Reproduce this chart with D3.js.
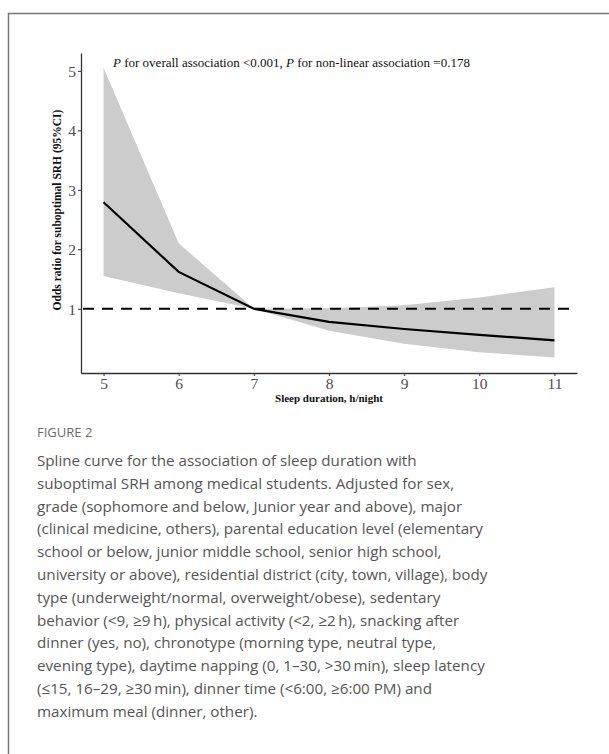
<!DOCTYPE html>
<html>
<head>
<meta charset="utf-8">
<script src="https://cdn.jsdelivr.net/npm/d3@7"></script>
<style>
  body { margin: 0; background: #fff; }
  svg { display: block; }
</style>
</head>
<body>
<svg id="chart" width="609" height="754"></svg>
<script>
// sleep duration (h/night) and odds ratio with 95% CI
var hours = [5, 6, 7, 8, 9, 10, 11];
var oddsRatio = [2.79, 1.62, 1.0, 0.78, 0.66, 0.56, 0.47];
var upperCI = [5.05, 2.1, 1.0, 1.01, 1.06, 1.19, 1.36];
var lowerCI = [1.55, 1.26, 1.0, 0.63, 0.41, 0.27, 0.18];
var xTicks = [5, 6, 7, 8, 9, 10, 11];
var yTicks = [1, 2, 3, 4, 5];

var captionLines = [
  "Spline curve for the association of sleep duration with",
  "suboptimal SRH among medical students. Adjusted for sex,",
  "grade (sophomore and below, Junior year and above), major",
  "(clinical medicine, others), parental education level (elementary",
  "school or below, junior middle school, senior high school,",
  "university or above), residential district (city, town, village), body",
  "type (underweight/normal, overweight/obese), sedentary",
  "behavior (<9, \u22659\u2009h), physical activity (<2, \u22652\u2009h), snacking after",
  "dinner (yes, no), chronotype (morning type, neutral type,",
  "evening type), daytime napping (0, 1\u201330, >30\u2009min), sleep latency",
  "(\u226415, 16\u201329, \u226530\u2009min), dinner time (<6:00, \u22656:00 PM) and",
  "maximum meal (dinner, other)."
];

var svg = d3.select("#chart");

//outer frame of the figure
svg.append("path")
    .attr("d", "M8.5,760 L8.5,13.5 L620,13.5")
    .attr("fill", "none")
    .attr("stroke", "#777")
    .attr("stroke-width", 1.5);

var x = d3.scaleLinear().domain([4.7, 11.3]).range([81, 577]);
var y = d3.scaleLinear().domain([-0.08, 5.3]).range([373, 53]);

var data = hours.map((h, i) => ({h: h, or: oddsRatio[i], lo: lowerCI[i], hi: upperCI[i]}));

//confidence band
svg.append("path")
    .datum(data)
    .attr("fill", "#cccccc")
    .attr("d", d3.area()
        .x(d => x(d.h))
        .y0(d => y(d.lo))
        .y1(d => y(d.hi)));

//reference line at OR = 1
svg.append("line")
    .attr("x1", x(4.7) + 2)
    .attr("x2", x(11.3))
    .attr("y1", y(1))
    .attr("y2", y(1))
    .attr("stroke", "black")
    .attr("stroke-width", 2.2)
    .attr("stroke-dasharray", "11,8");

//odds ratio curve
svg.append("path")
    .datum(data)
    .attr("fill", "none")
    .attr("stroke", "black")
    .attr("stroke-width", 2.2)
    .attr("d", d3.line()
        .x(d => x(d.h))
        .y(d => y(d.or)));

//axes
var xAxis = svg.append("g")
    .attr("transform", "translate(0,373)")
    .call(d3.axisBottom(x).tickValues(xTicks).tickSize(3).tickSizeOuter(0).tickFormat(d3.format("d")));
var yAxis = svg.append("g")
    .attr("transform", "translate(81,0)")
    .call(d3.axisLeft(y).tickValues(yTicks).tickSize(3).tickSizeOuter(0).tickFormat(d3.format("d")));

[xAxis, yAxis].forEach(g => {
    g.attr("font-size", null).attr("font-family", null);
    g.select(".domain").attr("stroke", "#333").attr("stroke-width", 1.3);
    g.selectAll(".tick line").attr("stroke", "#333");
    g.selectAll(".tick text")
        .attr("fill", "#4d4d4d")
        .attr("font-family", "'Liberation Serif', 'DejaVu Serif', serif")
        .attr("font-size", 15.5);
});
xAxis.selectAll(".tick text").attr("y", 5).attr("dy", "0.72em");
yAxis.selectAll(".tick text").attr("x", -5).attr("dy", "0.34em");

//axis titles
svg.append("text")
    .attr("x", 329)
    .attr("y", 402)
    .attr("text-anchor", "middle")
    .style("font-family", "'Liberation Serif', serif")
    .style("font-size", "11px")
    .style("font-weight", "bold")
    .attr("fill", "#111")
    .text("Sleep duration, h/night");

svg.append("text")
    .attr("transform", "translate(61,210) rotate(-90)")
    .attr("text-anchor", "middle")
    .style("font-family", "'Liberation Serif', serif")
    .style("font-size", "11.5px")
    .style("font-weight", "bold")
    .attr("fill", "#111")
    .text("Odds ratio for suboptimal SRH (95%CI)");

//p-value annotation
var note = svg.append("text")
    .attr("x", 113)
    .attr("y", 67)
    .style("font-family", "'Liberation Serif', serif")
    .style("font-size", "13px")
    .attr("fill", "#111");
note.append("tspan").style("font-style", "italic").text("P");
note.append("tspan").text(" for overall association <0.001, ");
note.append("tspan").style("font-style", "italic").text("P");
note.append("tspan").text(" for non-linear association =0.178");

//caption
svg.append("text")
    .attr("x", 37)
    .attr("y", 437)
    .style("font-family", "'Open Sans', sans-serif")
    .style("font-size", "13px")
    .attr("fill", "#6b6b6b")
    .text("FIGURE 2");

svg.append("g").selectAll("text")
    .data(captionLines).enter()
    .append("text")
    .attr("x", 37)
    .attr("y", (d, i) => 466 + i * 22.8)
    .style("font-family", "'Open Sans', sans-serif")
    .style("font-size", "15.2px")
    .attr("fill", "#555")
    .text(d => d);
</script>
</body>
</html>
